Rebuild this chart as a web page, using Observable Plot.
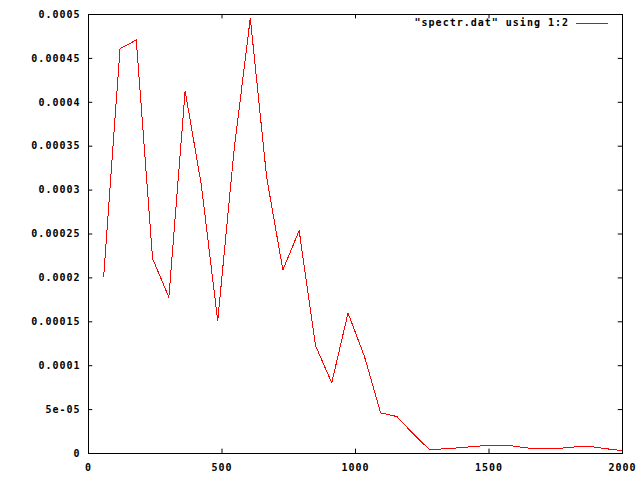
<!DOCTYPE html>
<html>
<head>
<meta charset="utf-8">
<script src="https://cdn.jsdelivr.net/npm/d3@7"></script>
<script src="https://cdn.jsdelivr.net/npm/@observablehq/plot@0.6"></script>
<style>
  html, body { margin: 0; padding: 0; background: #fff; }
  #wrap { position: relative; width: 640px; height: 480px; }
  #wrap svg { letter-spacing: 1px; }
  #legend {
    position: absolute; top: 16px; right: 32px;
    font-family: "DejaVu Sans Mono", monospace; font-weight: bold; font-size: 10px;
    letter-spacing: 1px; color: #000; display: flex; align-items: center; line-height: 14px;
  }
  #legend .sample { display: inline-block; width: 32px; height: 1px; background: #ff0000; margin-left: 7px; }
</style>
</head>
<body>
<div id="wrap"><div id="legend"><span id="legendText"></span><span class="sample"></span></div></div>
<script>
const seriesName = '"spectr.dat" using 1:2';
const freq = [57, 118, 179, 240, 301, 362, 423, 484, 545, 606, 667, 728, 789, 850, 911, 972,
  1033, 1094, 1155, 1216, 1277, 1338, 1399, 1460, 1521, 1582, 1643, 1704, 1765, 1826, 1887, 1948, 2009];
const power = [0.000202, 0.000461, 0.000471, 0.000222, 0.000178, 0.000413, 0.000305, 0.000151,
  0.000345, 0.000496, 0.000315, 0.000209, 0.000254, 0.000123, 0.0000805, 0.00016,
  0.000111, 0.0000463, 0.0000421, 0.0000224, 0.0000045, 0.0000054, 0.0000068, 0.0000085,
  0.0000088, 0.0000088, 0.0000063, 0.0000054, 0.0000059, 0.0000076, 0.0000076, 0.0000051, 0.0000028];
const xTicks = [0, 500, 1000, 1500, 2000];
const xTickLabels = ["0", "500", "1000", "1500", "2000"];
const yTicks = [0, 0.00005, 0.0001, 0.00015, 0.0002, 0.00025, 0.0003, 0.00035, 0.0004, 0.00045, 0.0005];
const yTickLabels = ["0", "5e-05", "0.0001", "0.00015", "0.0002", "0.00025", "0.0003", "0.00035", "0.0004", "0.00045", "0.0005"];
const xDomain = [0, 2000];
const yDomain = [0, 0.0005];

const data = freq.map((f, i) => ({f, p: power[i]}));
const tx = 16;        // inward tick length, x units
const ty = 0.0000050; // inward tick length, y units

document.getElementById("legendText").textContent = seriesName;

const chart = Plot.plot({
  width: 640,
  height: 480,
  marginLeft: 88,
  marginRight: 18,
  marginTop: 14,
  marginBottom: 27,
  x: {domain: xDomain},
  y: {domain: yDomain},
  style: {fontFamily: "'DejaVu Sans Mono', monospace", fontSize: "10px", fontWeight: "bold", background: "#fff", color: "#000"},
  marks: [
    Plot.line(data, {x: "f", y: "p", stroke: "#ff0000", strokeWidth: 1, clip: true, shapeRendering: "crispEdges"}),
    Plot.ruleY(yTicks, {y: d => d, x1: xDomain[0], x2: xDomain[0] + tx, stroke: "#000"}),
    Plot.ruleY(yTicks, {y: d => d, x1: xDomain[1] - tx, x2: xDomain[1], stroke: "#000"}),
    Plot.ruleX(xTicks, {x: d => d, y1: yDomain[0], y2: yDomain[0] + ty, stroke: "#000"}),
    Plot.ruleX(xTicks, {x: d => d, y1: yDomain[1] - ty, y2: yDomain[1], stroke: "#000"}),
    Plot.frame({stroke: "#000"}),
    Plot.axisX({ticks: xTicks, tickSize: 0, tickPadding: 10, tickFormat: (d) => xTickLabels[xTicks.indexOf(d)], label: null}),
    Plot.axisY({ticks: yTicks, tickSize: 0, tickPadding: 8, tickFormat: (d) => yTickLabels[yTicks.indexOf(d)], label: null})
  ]
});
document.getElementById("wrap").prepend(chart);
</script>
</body>
</html>
